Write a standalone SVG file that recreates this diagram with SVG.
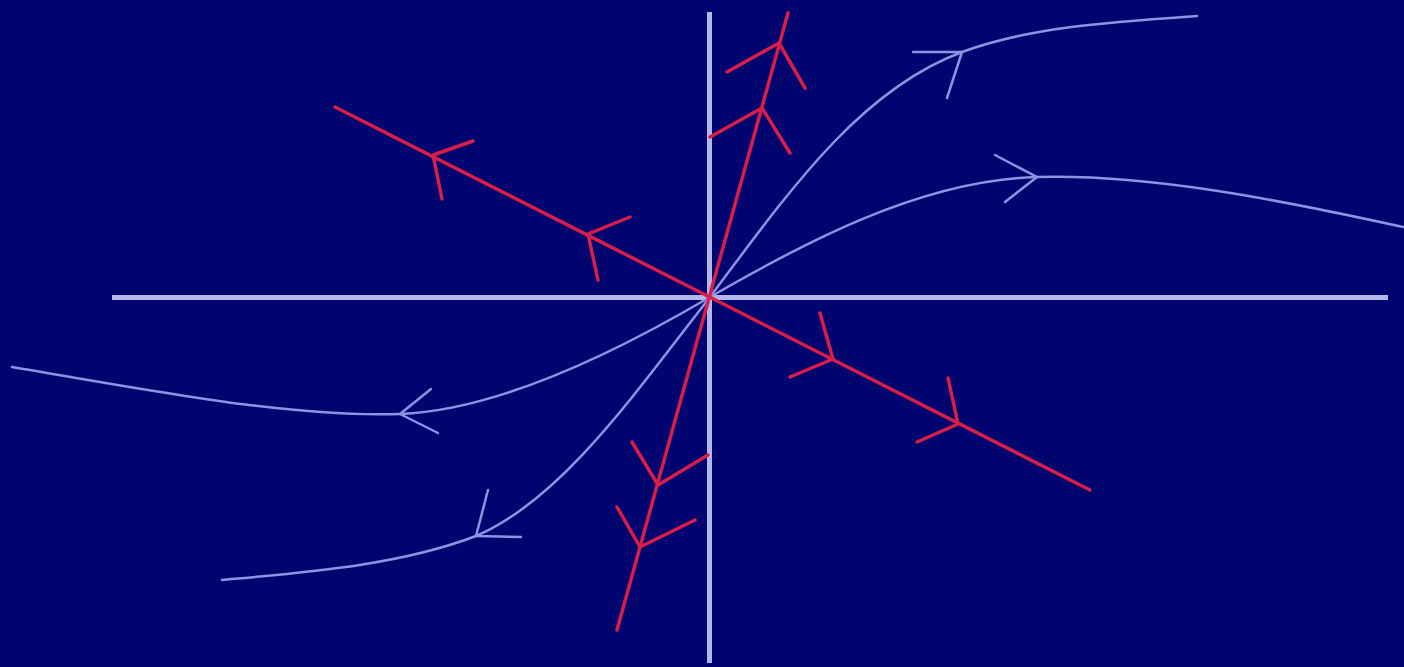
<svg xmlns="http://www.w3.org/2000/svg" width="1404" height="667" viewBox="0 0 1404 667">
  <style>
    .axis { stroke: #B2B6E8; stroke-width: 5; fill: none; }
    .traj { stroke: #8C92E4; stroke-width: 2.5; fill: none; stroke-linecap: round; stroke-linejoin: round; }
    .eig { stroke: #D81E48; stroke-width: 3.5; fill: none; stroke-linecap: round; stroke-linejoin: round; }
  </style>
  <rect x="0" y="0" width="1404" height="667" fill="#00046E"/>
  <g id="axes">
    <line class="axis" x1="112" y1="297.5" x2="1388" y2="297.5"/>
    <line class="axis" x1="709.5" y1="12" x2="709.5" y2="663"/>
  </g>
  <g id="trajectories">
    <path class="traj" d="M710,297 C790,190 860,90 962,52 C1030,27 1110,22 1197,16"/>
    <path class="traj" d="M710,297 C800,245 920,180 1037,177 C1150,174 1280,200 1403,227"/>
    <path class="traj" d="M710,297 C620,350 500,410 400,414 C290,418 150,390 12,367"/>
    <path class="traj" d="M710,297 C630,400 560,500 476,536 C400,565 310,572 222,580"/>
    <path class="traj" d="M913,52 L962,52 L947,98"/>
    <path class="traj" d="M995,155 L1037,177 L1005,202"/>
    <path class="traj" d="M431,389 L400,414 L438,433"/>
    <path class="traj" d="M488,490 L476,536 L521,537"/>
  </g>
  <g id="eigenvectors">
    <line class="eig" x1="335" y1="107" x2="1090" y2="490"/>
    <line class="eig" x1="788" y1="13" x2="617" y2="630"/>
    <path class="eig" d="M473,141 L433,155 L442,199"/>
    <path class="eig" d="M630,217 L588,234 L598,280"/>
    <path class="eig" d="M820,313 L833,359 L790,377"/>
    <path class="eig" d="M948,378 L958,424 L917,442"/>
    <path class="eig" d="M727,72 L779,43 L805,88"/>
    <path class="eig" d="M710,137 L762,108 L790,153"/>
    <path class="eig" d="M632,442 L658,485 L708,455"/>
    <path class="eig" d="M617,507 L640,547 L695,520"/>
  </g>
</svg>
